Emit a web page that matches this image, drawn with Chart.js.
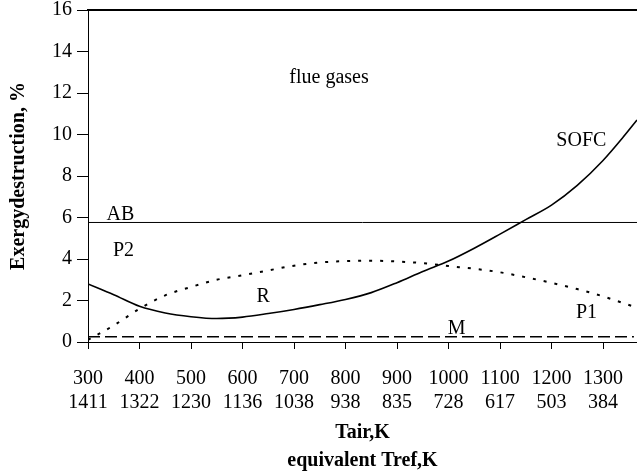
<!DOCTYPE html>
<html>
<head>
<meta charset="utf-8">
<script src="https://cdn.jsdelivr.net/npm/chart.js@4"></script>
<style>
  html, body { margin: 0; padding: 0; background: #fff; }
  #box { width: 637px; height: 475px; }
</style>
</head>
<body>
<div id="box"><canvas id="chart"></canvas></div>
<script>
// Tair, K on the axis and the equivalent Tref, K printed under it
const tairTicks = [300, 400, 500, 600, 700, 800, 900, 1000, 1100, 1200, 1300];
const trefTicks = [1411, 1322, 1230, 1136, 1038, 938, 835, 728, 617, 503, 384];

// R / SOFC curve (solid)
const tairSolid = [300, 350, 400, 450, 500, 550, 600, 650, 700, 750, 800, 850, 900, 950, 1000, 1050, 1100, 1150, 1200, 1250, 1300, 1340, 1366];
const solidVals = [2.80, 2.28, 1.72, 1.40, 1.22, 1.13, 1.20, 1.37, 1.57, 1.80, 2.05, 2.38, 2.86, 3.40, 3.90, 4.52, 5.20, 5.90, 6.60, 7.55, 8.75, 9.90, 10.70];

// P2 / P1 curve (dotted)
const tairDot = [300, 350, 400, 450, 500, 550, 600, 650, 700, 750, 800, 850, 900, 950, 1000, 1050, 1100, 1150, 1200, 1250, 1300, 1366];
const dotVals = [0.10, 0.80, 1.60, 2.25, 2.65, 3.00, 3.22, 3.45, 3.68, 3.83, 3.90, 3.92, 3.88, 3.80, 3.66, 3.53, 3.36, 3.12, 2.85, 2.55, 2.20, 1.65];

// M (dashed)
const tairM = [300, 1360];
const mVals = [0.25, 0.25];

// AB (flat)
const tairAB = [300, 1366];
const abVals = [5.76, 5.76];

// curve names written on the plot
const curveNames = ["flue gases", "AB", "P2", "R", "SOFC", "P1", "M"];
const curveNameT = [768, 363, 369, 640, 1258, 1268, 1016];
const curveNameV = [12.72, 6.12, 4.39, 2.18, 9.71, 1.40, 0.66];

const serif = "'Liberation Serif', 'Times New Roman', serif";
const pts = (xs, ys) => xs.map((x, i) => ({x, y: ys[i]}));

const curveLabels = {
  id: "curveLabels",
  afterDatasetsDraw(chart){
    const {ctx, scales: {x, y}} = chart;
    ctx.save();
    ctx.font = "20px " + serif;
    ctx.fillStyle = "#000";
    ctx.textAlign = "center";
    ctx.textBaseline = "middle";
    curveNames.forEach((name, i) => {
      ctx.fillText(name, x.getPixelForValue(curveNameT[i]), y.getPixelForValue(curveNameV[i]));
    });
    ctx.restore();
  }
};

new Chart(document.getElementById("chart"), {
  type: "line",
  data: {
    datasets: [
      {data: pts(tairSolid, solidVals), borderColor: "#000", borderWidth: 1.6, cubicInterpolationMode: "monotone"},
      {data: pts(tairDot, dotVals), borderColor: "#000", borderWidth: 2, borderDash: [3, 8], cubicInterpolationMode: "monotone"},
      {data: pts(tairM, mVals), borderColor: "#000", borderWidth: 1.5, borderDash: [12, 5]},
      {data: pts(tairAB, abVals), borderColor: "#000", borderWidth: 1}
    ]
  },
  options: {
    responsive: true,
    maintainAspectRatio: false,
    animation: false,
    devicePixelRatio: 1,
    layout: {padding: 0},
    elements: {point: {radius: 0}},
    plugins: {legend: {display: false}, tooltip: {enabled: false}},
    scales: {
      x: {
        type: "linear",
        min: 300,
        max: 1366,
        afterBuildTicks: s => { s.ticks = tairTicks.map(v => ({value: v})); },
        afterFit: s => { s.height = 133; s.paddingRight = 0; },
        ticks: {
          color: "#000",
          autoSkip: false,
          maxRotation: 0,
          padding: 18,
          font: {family: serif, size: 20, lineHeight: 1.2},
          callback: v => {
            const i = tairTicks.indexOf(v);
            return i < 0 ? "" : [String(v), String(trefTicks[i])];
          }
        },
        grid: {drawOnChartArea: false, tickLength: 7, color: "#000"},
        border: {color: "#000", width: 1},
        title: {
          display: true,
          text: ["Tair,K", "equivalent Tref,K"],
          color: "#000",
          font: {family: serif, size: 20, weight: "bold", lineHeight: 1.4},
          padding: {top: 4, bottom: 0}
        }
      },
      x2: {
        type: "linear",
        position: "top",
        min: 300,
        max: 1366,
        ticks: {display: false},
        grid: {display: false, drawTicks: false},
        border: {display: true, color: "#000", width: 2},
        afterFit: s => { s.height = 0; }
      },
      y: {
        min: 0,
        max: 16,
        afterFit: s => { s.width = 88; s.paddingTop = 10; },
        ticks: {
          stepSize: 2,
          color: "#000",
          padding: 5,
          font: {family: serif, size: 20, lineHeight: 1}
        },
        grid: {drawOnChartArea: false, tickLength: 11, color: "#000"},
        border: {color: "#000", width: 1},
        title: {
          display: true,
          text: "Exergydestruction, %",
          color: "#000",
          font: {family: serif, size: 20, weight: "bold", lineHeight: 1.2},
          padding: {top: 7, bottom: 0}
        }
      }
    }
  },
  plugins: [curveLabels]
});
</script>
</body>
</html>
